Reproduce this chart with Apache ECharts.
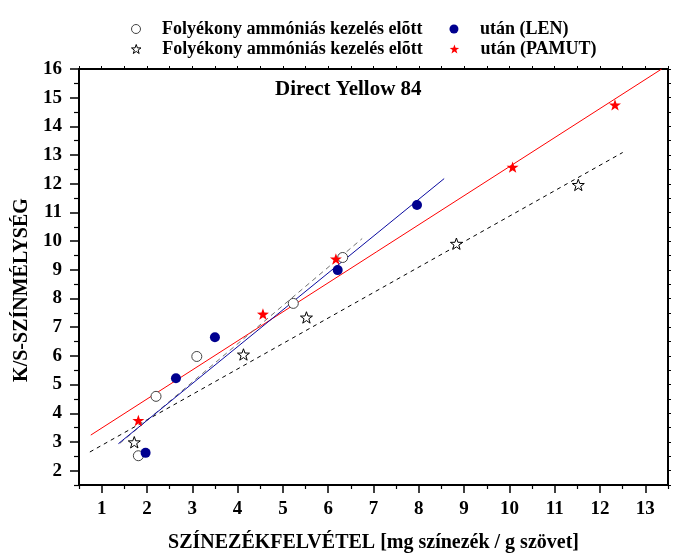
<!DOCTYPE html>
<html>
<head>
<meta charset="utf-8">
<script src="https://cdn.jsdelivr.net/npm/echarts@6/dist/echarts.min.js"></script>
<style>html,body{margin:0;padding:0;background:#fff}#c{width:679px;height:553px}</style>
</head>
<body>
<div id="c"></div>
<script>
// ---- data ----
const xMajorTicks = [1,2,3,4,5,6,7,8,9,10,11,12,13];
const xMinorTicks = [0.5,1.5,2.5,3.5,4.5,5.5,6.5,7.5,8.5,9.5,10.5,11.5,12.5,13.5];
const yMajorTicks = [2,3,4,5,6,7,8,9,10,11,12,13,14,15,16];
const yMinorTicks = [1.5,2.5,3.5,4.5,5.5,6.5,7.5,8.5,9.5,10.5,11.5,12.5,13.5,14.5,15.5];

const lenBeforeX = [1.81, 2.20, 3.10, 5.23, 6.32];
const lenBeforeY = [2.52, 4.59, 5.98, 7.83, 9.43];
const lenAfterX  = [1.97, 2.64, 3.50, 6.21, 7.96];
const lenAfterY  = [2.62, 5.22, 6.65, 8.99, 11.26];
const pamutBeforeX = [1.72, 4.13, 5.52, 8.83, 11.52];
const pamutBeforeY = [2.99, 6.05, 7.34, 9.91, 11.96];
const pamutAfterX  = [1.81, 4.56, 6.17, 10.07, 12.33];
const pamutAfterY  = [3.75, 7.46, 9.38, 12.58, 14.75];

const lenBeforeFitX = [1.40, 6.75];
const lenBeforeFitY = [2.95, 10.09];
const lenAfterFitX  = [1.37, 8.56];
const lenAfterFitY  = [2.94, 12.18];
const pamutBeforeFitX = [0.74, 12.50];
const pamutBeforeFitY = [2.65, 13.09];
const pamutAfterFitX  = [0.76, 13.36];
const pamutAfterFitY  = [3.24, 16.0];

const nameBefore = 'Folyékony ammóniás kezelés elõtt';
const nameLenAfter = 'után (LEN)';
const namePamutBefore = 'Folyékony ammóniás kezelés elõtt ';
const namePamutAfter = 'után (PAMUT)';
const titleText = 'Direct Yellow 84';
const xName = 'SZÍNEZÉKFELVÉTEL [mg színezék / g szövet]';
const yName = 'K/S-SZÍNMÉLYSÉG';

// ---- helpers ----
const zip = (xs, ys) => xs.map((x, i) => [x, ys[i]]);
const STAR = 'path://M0,-100 L23.5,-32.4 L95.1,-30.9 L38,12.4 L58.8,80.9 L0,40 L-58.8,80.9 L-38,12.4 L-95.1,-30.9 L-23.5,-32.4 Z';
const FONT = 'Liberation Serif';

const chart = echarts.init(document.getElementById('c'), null, {renderer: 'canvas'});

function lineSeries(xs, ys, color, type) {
  return {
    type: 'line', data: zip(xs, ys), symbol: 'none', silent: true,
    lineStyle: {color: color, width: 1, type: type}, z: 2
  };
}

const legendCommon = {
  orient: 'horizontal', left: 131, padding: 0, itemGap: 27,
  itemWidth: 42, itemHeight: 9, selectedMode: false,
  textStyle: {fontFamily: FONT, fontWeight: 'bold', fontSize: 18, color: '#000'},
  formatter: n => n.trim()
};

const option = {
  animation: false,
  backgroundColor: '#fff',
  title: {
    text: titleText, left: 275, top: 79, padding: 0,
    textStyle: {fontFamily: FONT, fontWeight: 'bold', fontSize: 21, color: '#000'}
  },
  legend: [
    Object.assign({}, legendCommon, {top: 20, data: [
      {name: nameBefore, itemStyle: {borderWidth: 1}},
      {name: nameLenAfter}
    ]}),
    Object.assign({}, legendCommon, {top: 40, data: [
      {name: namePamutBefore, itemStyle: {borderWidth: 1}},
      {name: namePamutAfter}
    ]})
  ],
  grid: {left: 79, right: 11, top: 69, bottom: 68, containLabel: false, outerBoundsMode: 'none'},
  xAxis: [
    {
      type: 'value', position: 'bottom', min: 0.5, max: 13.5,
      name: xName, nameLocation: 'middle', nameGap: 48,
      nameTextStyle: {fontFamily: FONT, fontWeight: 'bold', fontSize: 20, color: '#000'},
      axisLine: {show: true, lineStyle: {color: '#000', width: 2}},
      axisTick: {show: true, inside: false, length: 8, lineStyle: {color: '#000', width: 1.5}, customValues: xMajorTicks},
      axisLabel: {show: true, margin: 15, fontFamily: FONT, fontWeight: 'bold', fontSize: 19, color: '#000', customValues: xMajorTicks},
      splitLine: {show: false}
    },
    {
      type: 'value', position: 'bottom', min: 0.5, max: 13.5,
      axisLine: {show: false},
      axisTick: {show: true, inside: false, length: 4, lineStyle: {color: '#000', width: 1.2}, customValues: xMinorTicks},
      axisLabel: {show: false}, splitLine: {show: false}
    },
    {
      type: 'value', position: 'top', min: 0.5, max: 13.5,
      axisLine: {show: true, lineStyle: {color: '#000', width: 2}},
      axisTick: {show: true, inside: false, length: 3, lineStyle: {color: '#000', width: 1}, customValues: xMinorTicks.concat(xMajorTicks)},
      axisLabel: {show: false}, splitLine: {show: false}
    }
  ],
  yAxis: [
    {
      type: 'value', position: 'left', min: 1.5, max: 16,
      name: yName, nameLocation: 'middle', nameGap: 42, nameRotate: 90,
      nameTextStyle: {fontFamily: FONT, fontWeight: 'bold', fontSize: 20, color: '#000', padding: [0, 26, 0, 0]},
      axisLine: {show: true, lineStyle: {color: '#000', width: 2}},
      axisTick: {show: true, inside: false, length: 9, lineStyle: {color: '#000', width: 1.5}, customValues: yMajorTicks},
      axisLabel: {show: true, margin: 17, fontFamily: FONT, fontWeight: 'bold', fontSize: 19, color: '#000', customValues: yMajorTicks},
      splitLine: {show: false}
    },
    {
      type: 'value', position: 'left', min: 1.5, max: 16,
      axisLine: {show: false},
      axisTick: {show: true, inside: false, length: 5, lineStyle: {color: '#000', width: 1.2}, customValues: yMinorTicks},
      axisLabel: {show: false}, splitLine: {show: false}
    },
    {
      type: 'value', position: 'right', min: 1.5, max: 16,
      axisLine: {show: true, lineStyle: {color: '#000', width: 2}},
      axisTick: {show: true, inside: false, length: 3, lineStyle: {color: '#000', width: 1}, customValues: yMinorTicks.concat(yMajorTicks)},
      axisLabel: {show: false}, splitLine: {show: false}
    }
  ],
  series: [
    lineSeries(pamutBeforeFitX, pamutBeforeFitY, '#000', [4, 4]),
    lineSeries(pamutAfterFitX, pamutAfterFitY, '#ff0000', 'solid'),
    lineSeries(lenBeforeFitX, lenBeforeFitY, '#707070', [5, 4]),
    lineSeries(lenAfterFitX, lenAfterFitY, '#0a0aa0', 'solid'),
    {
      name: nameBefore, type: 'scatter', data: zip(lenBeforeX, lenBeforeY),
      symbol: 'circle', symbolSize: 10, z: 3,
      itemStyle: {color: '#fff', borderColor: '#444', borderWidth: 1, opacity: 1}
    },
    {
      name: nameLenAfter, type: 'scatter', data: zip(lenAfterX, lenAfterY),
      symbol: 'circle', symbolSize: 10, z: 3,
      itemStyle: {color: '#00008f', opacity: 1}
    },
    {
      name: namePamutBefore, type: 'scatter', data: zip(pamutBeforeX, pamutBeforeY),
      symbol: STAR, symbolKeepAspect: true, symbolSize: 12, z: 3,
      itemStyle: {color: '#fff', borderColor: '#000', borderWidth: 1, opacity: 1}
    },
    {
      name: namePamutAfter, type: 'scatter', data: zip(pamutAfterX, pamutAfterY),
      symbol: STAR, symbolKeepAspect: true, symbolSize: 12, z: 3,
      itemStyle: {color: '#ff0000', opacity: 1}
    }
  ]
};
chart.setOption(option);
</script>
</body>
</html>
